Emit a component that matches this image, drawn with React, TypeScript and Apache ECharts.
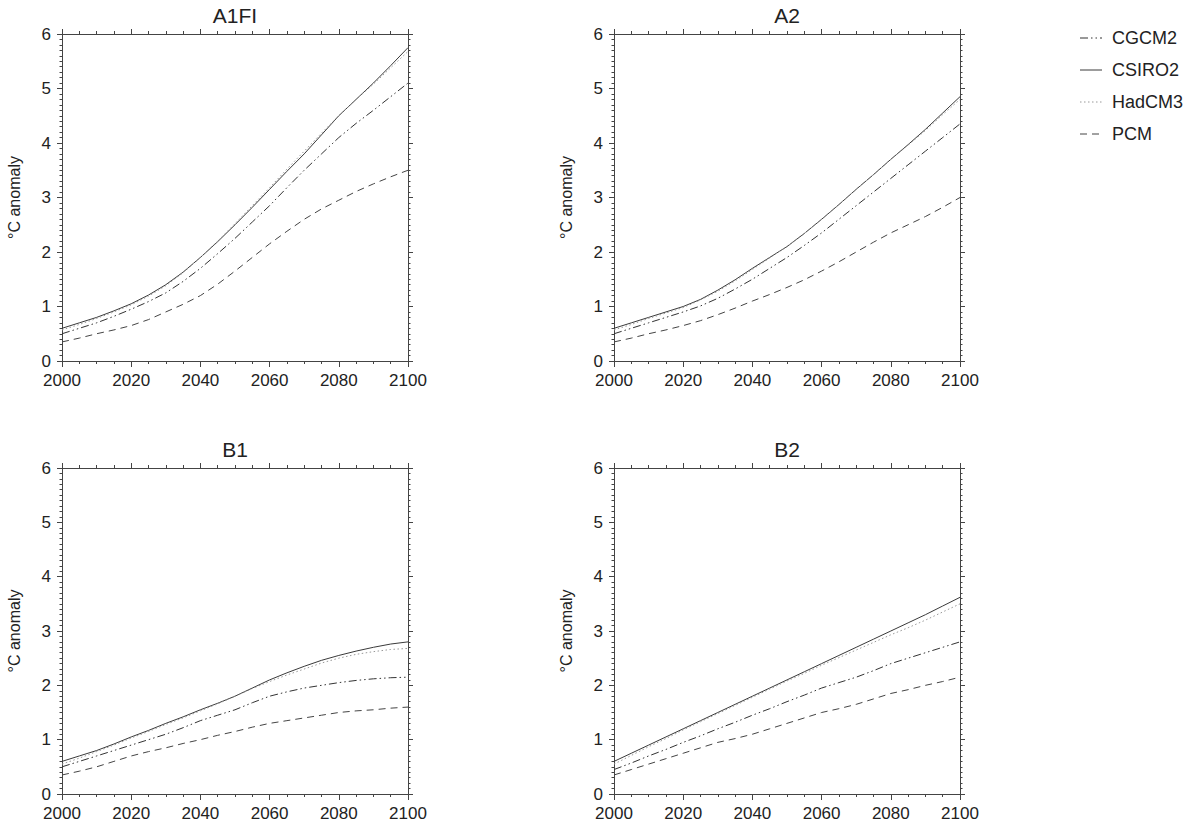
import React, { useEffect, useRef } from "react";
import * as echarts from "echarts";

const years = [
  2000, 2005, 2010, 2015, 2020, 2025, 2030, 2035, 2040, 2045, 2050,
  2055, 2060, 2065, 2070, 2075, 2080, 2085, 2090, 2095, 2100,
];
const models = ["CGCM2", "CSIRO2", "HadCM3", "PCM"];
const scenarios = ["A1FI", "A2", "B1", "B2"];
const xTicks = [2000, 2020, 2040, 2060, 2080, 2100];
const yTicks = [0, 1, 2, 3, 4, 5, 6];

// A1FI
const a1fiCGCM2 = [0.5, 0.6, 0.7, 0.82, 0.95, 1.09, 1.25, 1.46, 1.7, 1.97, 2.25, 2.55, 2.85, 3.18, 3.5, 3.8, 4.1, 4.36, 4.6, 4.85, 5.1];
const a1fiCSIRO2 = [0.6, 0.7, 0.8, 0.92, 1.05, 1.21, 1.4, 1.63, 1.9, 2.19, 2.5, 2.82, 3.15, 3.48, 3.8, 4.15, 4.5, 4.8, 5.1, 5.42, 5.75];
const a1fiHadCM3 = [0.57, 0.67, 0.78, 0.9, 1.03, 1.19, 1.38, 1.62, 1.9, 2.2, 2.52, 2.85, 3.18, 3.52, 3.85, 4.18, 4.5, 4.8, 5.08, 5.38, 5.68];
const a1fiPCM = [0.35, 0.42, 0.5, 0.57, 0.65, 0.76, 0.9, 1.04, 1.2, 1.41, 1.65, 1.9, 2.15, 2.38, 2.6, 2.79, 2.95, 3.11, 3.25, 3.38, 3.5];
// A2
const a2CGCM2 = [0.5, 0.6, 0.7, 0.8, 0.9, 1.01, 1.15, 1.32, 1.5, 1.7, 1.9, 2.12, 2.35, 2.6, 2.85, 3.1, 3.35, 3.6, 3.85, 4.1, 4.35];
const a2CSIRO2 = [0.6, 0.7, 0.8, 0.9, 1.0, 1.13, 1.3, 1.49, 1.7, 1.9, 2.1, 2.34, 2.6, 2.87, 3.15, 3.42, 3.7, 3.97, 4.25, 4.55, 4.85];
const a2HadCM3 = [0.57, 0.67, 0.78, 0.88, 0.98, 1.12, 1.28, 1.47, 1.68, 1.89, 2.1, 2.34, 2.6, 2.87, 3.15, 3.42, 3.7, 3.96, 4.23, 4.52, 4.8];
const a2PCM = [0.35, 0.42, 0.5, 0.57, 0.65, 0.74, 0.85, 0.97, 1.1, 1.22, 1.35, 1.49, 1.65, 1.82, 2.0, 2.18, 2.35, 2.5, 2.65, 2.82, 3.0];
// B1
const b1CGCM2 = [0.5, 0.6, 0.7, 0.8, 0.9, 1.0, 1.1, 1.22, 1.35, 1.45, 1.55, 1.68, 1.8, 1.88, 1.95, 2.0, 2.05, 2.09, 2.12, 2.14, 2.15];
const b1CSIRO2 = [0.6, 0.7, 0.8, 0.92, 1.05, 1.17, 1.3, 1.42, 1.55, 1.67, 1.8, 1.95, 2.1, 2.23, 2.35, 2.46, 2.55, 2.63, 2.7, 2.76, 2.8];
const b1HadCM3 = [0.55, 0.66, 0.78, 0.9, 1.03, 1.15, 1.28, 1.4, 1.53, 1.66, 1.8, 1.94, 2.07, 2.19, 2.3, 2.41, 2.5, 2.57, 2.62, 2.66, 2.68];
const b1PCM = [0.35, 0.42, 0.5, 0.6, 0.7, 0.78, 0.85, 0.93, 1.0, 1.08, 1.15, 1.23, 1.3, 1.35, 1.4, 1.45, 1.5, 1.53, 1.55, 1.58, 1.6];
// B2
const b2CGCM2 = [0.45, 0.57, 0.7, 0.82, 0.95, 1.07, 1.2, 1.32, 1.45, 1.57, 1.7, 1.82, 1.95, 2.05, 2.15, 2.27, 2.4, 2.5, 2.6, 2.7, 2.8];
const b2CSIRO2 = [0.6, 0.75, 0.9, 1.05, 1.2, 1.35, 1.5, 1.65, 1.8, 1.95, 2.1, 2.25, 2.4, 2.55, 2.7, 2.85, 3.0, 3.15, 3.3, 3.46, 3.62];
const b2HadCM3 = [0.55, 0.71, 0.87, 1.02, 1.18, 1.33, 1.48, 1.63, 1.78, 1.93, 2.08, 2.22, 2.37, 2.51, 2.65, 2.79, 2.93, 3.06, 3.2, 3.35, 3.5];
const b2PCM = [0.35, 0.45, 0.55, 0.65, 0.75, 0.85, 0.95, 1.02, 1.1, 1.2, 1.3, 1.4, 1.5, 1.57, 1.65, 1.75, 1.85, 1.92, 2.0, 2.07, 2.15];

const scenarioData = [
  [a1fiCGCM2, a1fiCSIRO2, a1fiHadCM3, a1fiPCM],
  [a2CGCM2, a2CSIRO2, a2HadCM3, a2PCM],
  [b1CGCM2, b1CSIRO2, b1HadCM3, b1PCM],
  [b2CGCM2, b2CSIRO2, b2HadCM3, b2PCM],
];

const FONT = "Liberation Sans, Arial, Helvetica, sans-serif";
const AXIS_COLOR = "#444";
const TEXT_COLOR = "#222";

const gridBoxes = [
  { left: 62, top: 34, width: 346, height: 327 },
  { left: 614, top: 34, width: 346, height: 327 },
  { left: 62, top: 468, width: 346, height: 326 },
  { left: 614, top: 468, width: 346, height: 326 },
];

const modelStyles = [
  { color: "#333", type: [8, 3, 1.5, 3, 1.5, 3] },
  { color: "#3a3a3a", type: "solid" },
  { color: "#999", type: [1.5, 2.5] },
  { color: "#444", type: [7, 5] },
];

const legendBox = { left: 1080, top: 38, lineLen: 22, gap: 32, textX: 1112 };

function buildOption() {
  const xAxis: any[] = [];
  const yAxis: any[] = [];
  const series: any[] = [];
  const title: any[] = [];

  gridBoxes.forEach((g, i) => {
    const common = {
      gridIndex: i,
      type: "value",
      axisLine: { show: true, onZero: false, lineStyle: { color: AXIS_COLOR, width: 1 } },
      splitLine: { show: false },
    };
    xAxis.push({
      ...common,
      position: "bottom",
      min: xTicks[0],
      max: xTicks[xTicks.length - 1],
      interval: 20,
      axisTick: { show: true, length: 6, lineStyle: { color: AXIS_COLOR } },
      minorTick: { show: true, splitNumber: 4, length: 3, lineStyle: { color: AXIS_COLOR } },
      axisLabel: {
        show: true,
        fontSize: 17,
        color: TEXT_COLOR,
        margin: 11,
        fontFamily: FONT,
        formatter: (v: number) => String(v),
      },
    });
    xAxis.push({
      ...common,
      position: "top",
      min: xTicks[0],
      max: xTicks[xTicks.length - 1],
      interval: 20,
      axisTick: { show: true, length: 5, lineStyle: { color: AXIS_COLOR } },
      minorTick: { show: true, splitNumber: 4, length: 3, lineStyle: { color: AXIS_COLOR } },
      axisLabel: { show: false },
    });
    yAxis.push({
      ...common,
      position: "left",
      min: yTicks[0],
      max: yTicks[yTicks.length - 1],
      interval: 1,
      axisTick: { show: true, length: 5, lineStyle: { color: AXIS_COLOR } },
      minorTick: { show: true, splitNumber: 10, length: 2.5, lineStyle: { color: AXIS_COLOR } },
      axisLabel: { show: true, fontSize: 17, color: TEXT_COLOR, margin: 11, fontFamily: FONT },
      name: "°C anomaly",
      nameLocation: "middle",
      nameRotate: 90,
      nameGap: 40,
      nameTextStyle: { fontSize: 16, color: TEXT_COLOR, fontFamily: FONT },
    });
    yAxis.push({
      ...common,
      position: "right",
      min: yTicks[0],
      max: yTicks[yTicks.length - 1],
      interval: 1,
      axisTick: { show: true, length: 5, lineStyle: { color: AXIS_COLOR } },
      minorTick: { show: true, splitNumber: 10, length: 2.5, lineStyle: { color: AXIS_COLOR } },
      axisLabel: { show: false },
    });

    title.push({
      text: scenarios[i],
      left: g.left + g.width / 2,
      top: g.top - 29,
      textAlign: "center",
      padding: 0,
      textStyle: { fontSize: 21, fontWeight: "normal", color: TEXT_COLOR, fontFamily: FONT },
    });

    models.forEach((m, k) => {
      const vals = scenarioData[i][k];
      series.push({
        name: m,
        type: "line",
        xAxisIndex: i * 2,
        yAxisIndex: i * 2,
        data: years.map((y, j) => [y, vals[j]]),
        smooth: false,
        symbol: "none",
        lineStyle: { color: modelStyles[k].color, width: 1, type: modelStyles[k].type },
        itemStyle: { color: modelStyles[k].color },
        z: k === 2 ? 3 : 2,
      });
    });
  });

  const graphic: any[] = [];
  models.forEach((m, k) => {
    const y = legendBox.top + k * legendBox.gap;
    const st = modelStyles[k];
    graphic.push({
      type: "line",
      shape: { x1: legendBox.left, y1: y, x2: legendBox.left + legendBox.lineLen, y2: y },
      style: {
        stroke: st.color,
        lineWidth: 1,
        lineDash: Array.isArray(st.type) ? st.type : null,
      },
    });
    graphic.push({
      type: "text",
      x: legendBox.textX,
      y,
      style: {
        text: m,
        fontSize: 18,
        fontFamily: FONT,
        fill: TEXT_COLOR,
        verticalAlign: "middle",
        align: "left",
      },
    });
  });

  return {
    animation: false,
    backgroundColor: "#fff",
    title,
    graphic,
    grid: gridBoxes.map((g) => ({ ...g, containLabel: false })),
    xAxis,
    yAxis,
    series,
  };
}

export default function App() {
  const ref = useRef<HTMLDivElement>(null);
  useEffect(() => {
    if (!ref.current) return;
    const chart = echarts.init(ref.current, undefined, { renderer: "svg" });
    chart.setOption(buildOption() as any);
    return () => chart.dispose();
  }, []);
  return (
    <div
      ref={ref}
      style={{ position: "absolute", left: 0, top: 0, width: 1197, height: 830, background: "#fff" }}
    />
  );
}
